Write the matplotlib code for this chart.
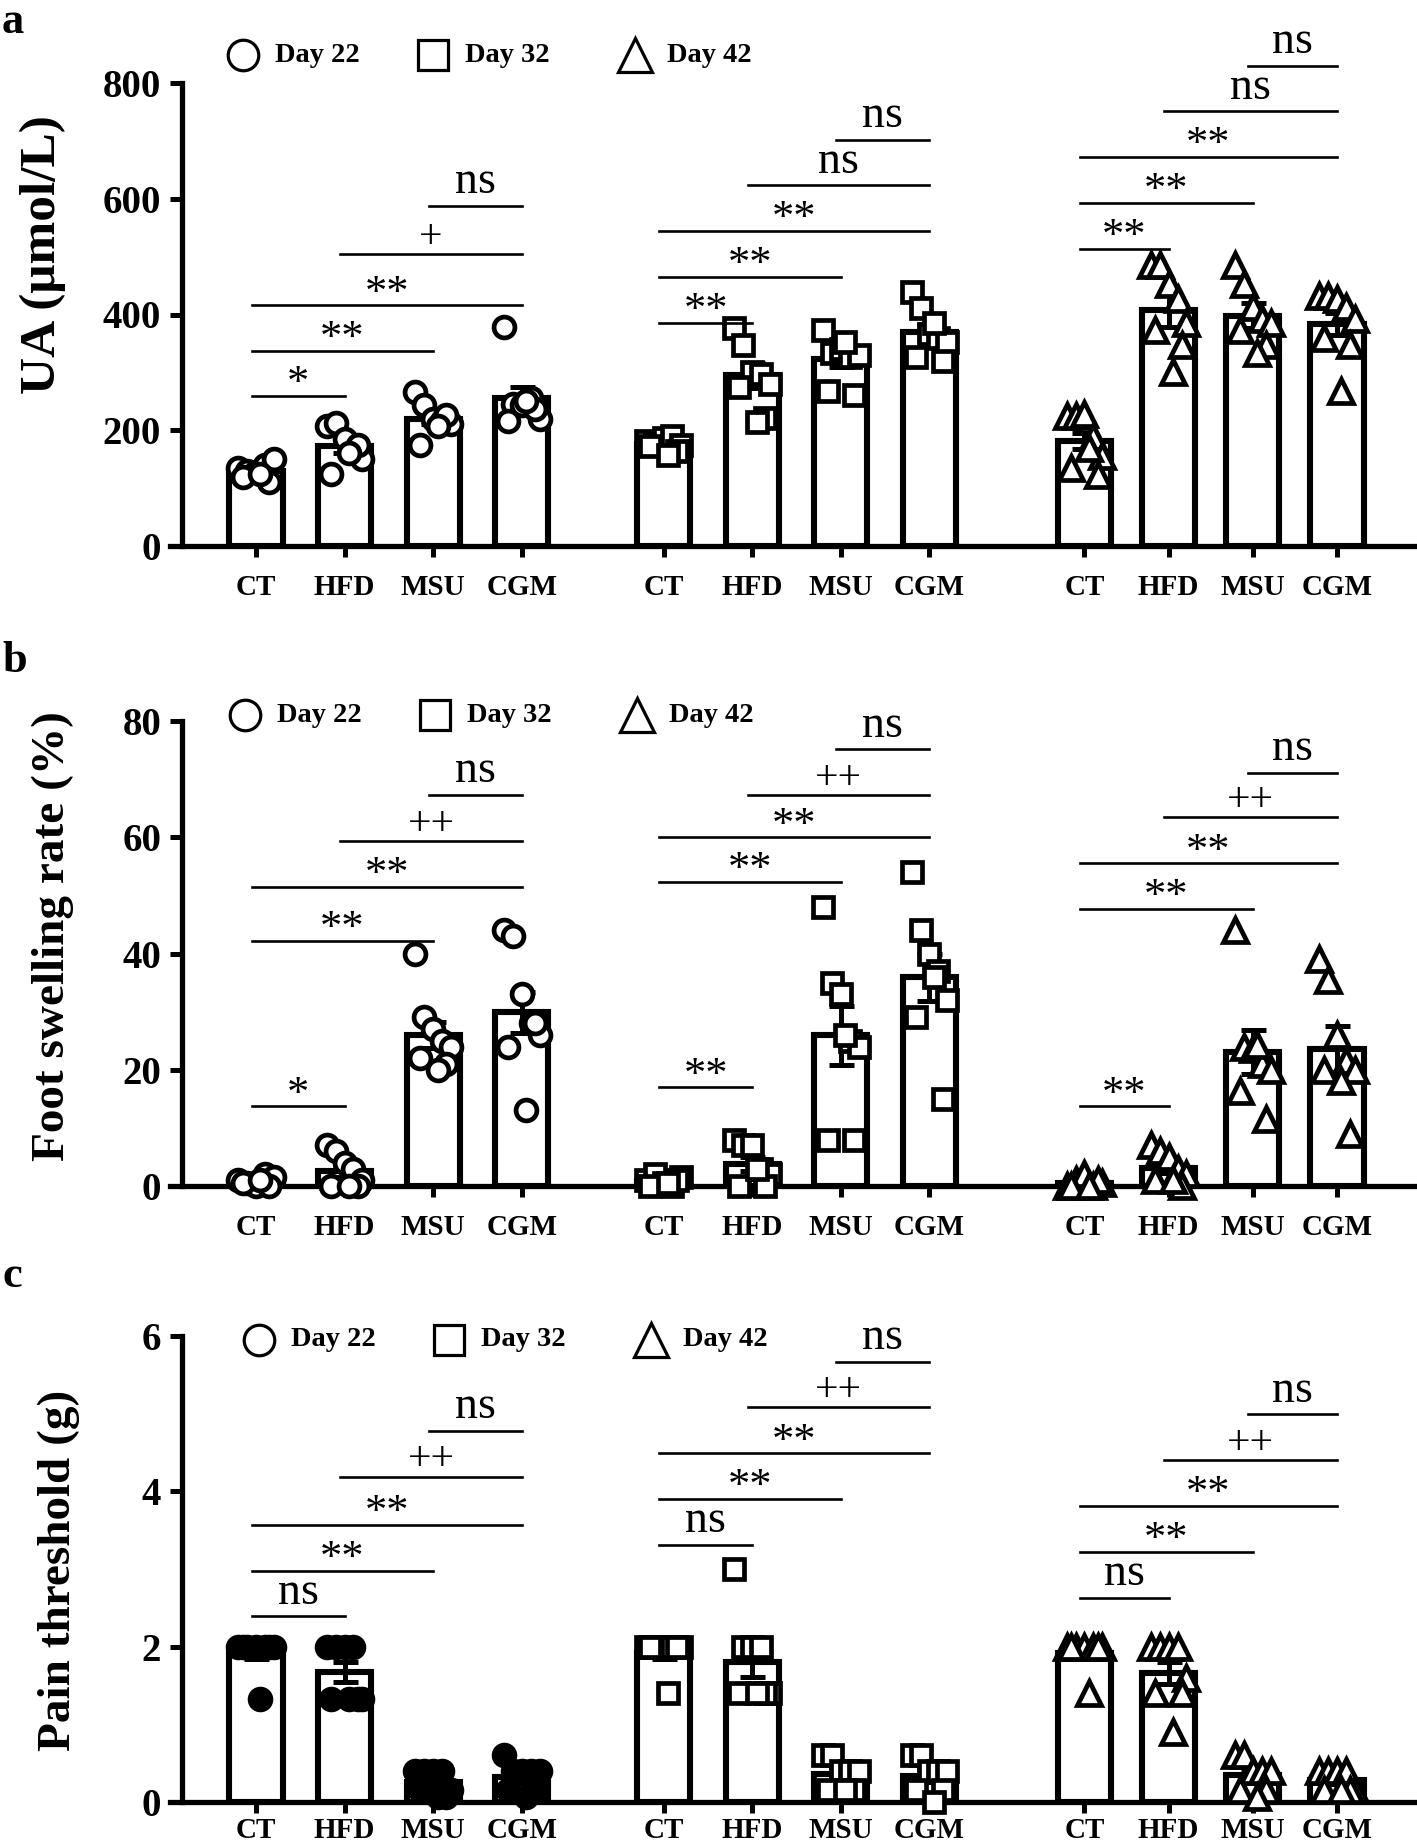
import numpy as np
import matplotlib
matplotlib.use("Agg")
import matplotlib.pyplot as plt

plt.rcParams['font.family'] = ['Liberation Serif', 'DejaVu Serif']

# categories
groups = ["CT", "HFD", "MSU", "CGM"]
days = ["Day 22", "Day 32", "Day 42"]
x_pos = [0, 1, 2, 3, 4.6, 5.6, 6.6, 7.6, 9.35, 10.3, 11.25, 12.2]

# a: UA (umol/L), 8 animals per bar
ua_pts = [
    [135, 130, 128, 140, 150, 120, 110, 125], [208, 212, 185, 165, 150, 125, 175, 160],
    [266, 243, 220, 216, 210, 174, 226, 207], [378, 246, 243, 256, 220, 216, 236, 250],
    [182, 178, 186, 190, 175, 172, 165, 158], [376, 347, 300, 297, 280, 274, 221, 215],
    [373, 333, 340, 327, 330, 267, 261, 353], [439, 412, 366, 360, 353, 327, 320, 386],
    [224, 224, 228, 188, 155, 135, 122, 170], [485, 485, 452, 426, 386, 373, 347, 300],
    [485, 452, 413, 393, 386, 373, 347, 333], [432, 432, 426, 413, 393, 360, 347, 267],
]
ua_mean = [130, 172, 220, 256, 176, 295, 323, 370, 181, 407, 398, 384]
ua_sem = [5, 11, 9, 19, 4, 22, 14, 14, 14, 28, 22, 19]
ua_sig = [(0, 1, 260, '*'), (0, 2, 337, '**'), (0, 3, 416, '**'), (1, 3, 505, '+'), (2, 3, 587, 'ns'),
          (4, 5, 386, '**'), (4, 6, 465, '**'), (4, 7, 544, '**'), (5, 7, 623, 'ns'), (6, 7, 702, 'ns'),
          (8, 9, 514, '**'), (8, 10, 593, '**'), (8, 11, 672, '**'), (9, 11, 751, 'ns'), (10, 11, 830, 'ns')]

# b: foot swelling rate (%)
fs_pts = [
    [1, 0.5, 0, 2, 1.5, 0.5, 0, 1], [7, 6, 4, 3, 1, 0, 0, 0],
    [40, 29, 27, 25, 24, 22, 21, 20], [44, 43, 33, 28, 26, 24, 28, 13],
    [1, 2, 0.5, 0, 1.5, 0, 1, 0.5], [8, 7, 7, 3, 2, 0, 0, 3],
    [48, 35, 33, 25, 24, 8, 8, 26], [54, 44, 40, 37, 32, 29, 15, 36],
    [0, 1, 2, 0, 0.5, 0, 1, 0], [7, 6, 5, 3, 2, 1, 0, 1],
    [44, 24, 23.6, 21, 20, 16.4, 11.6, 24.3], [39, 35.5, 26, 21.5, 20, 20, 9, 18],
]
fs_mean = [0.8, 2.6, 26, 29.9, 0.8, 3.8, 25.9, 35.9, 0.6, 3.1, 23.1, 23.6]
fs_sem = [0.3, 1.0, 2.2, 3.5, 0.3, 1.2, 5, 4, 0.3, 0.9, 3.8, 4]
fs_sig = [(0, 1, 13.7, '*'), (0, 2, 42.2, '**'), (0, 3, 51.5, '**'), (1, 3, 59.4, '++'), (2, 3, 67.3, 'ns'),
          (4, 5, 17, '**'), (4, 6, 52.3, '**'), (4, 7, 60, '**'), (5, 7, 67.3, '++'), (6, 7, 75.1, 'ns'),
          (8, 9, 13.7, '**'), (8, 10, 47.7, '**'), (8, 11, 55.5, '**'), (9, 11, 63.4, '++'), (10, 11, 71.1, 'ns')]

# c: pain threshold (g)
pt_pts = [
    [2, 2, 2, 2, 2, 2, 2, 1.33], [2, 2, 2, 2, 1.33, 1.33, 1.33, 1.33],
    [0.4, 0.4, 0.4, 0.4, 0.16, 0.16, 0.07, 0.07], [0.6, 0.4, 0.4, 0.4, 0.4, 0.16, 0.16, 0.07],
    [2, 2, 2, 2, 2, 2, 2, 1.4], [3.0, 2, 2, 2, 1.4, 1.4, 1.4, 1.4],
    [0.6, 0.6, 0.4, 0.4, 0.4, 0.16, 0.16, 0.16], [0.6, 0.6, 0.4, 0.4, 0.4, 0.16, 0.16, 0.0],
    [2, 2, 2, 2, 2, 2, 2, 1.4], [2, 2, 2, 2, 1.6, 1.4, 1.4, 0.9],
    [0.6, 0.6, 0.4, 0.4, 0.4, 0.16, 0.16, 0.07], [0.4, 0.4, 0.4, 0.4, 0.16, 0.16, 0.16, 0.16],
]
pt_mean = [1.92, 1.67, 0.26, 0.32, 1.92, 1.8, 0.36, 0.34, 1.92, 1.66, 0.35, 0.28]
pt_sem = [0.08, 0.13, 0.06, 0.07, 0.08, 0.19, 0.07, 0.08, 0.08, 0.14, 0.07, 0.05]
pt_sig = [(0, 1, 2.39, 'ns'), (0, 2, 2.98, '**'), (0, 3, 3.57, '**'), (1, 3, 4.19, '++'), (2, 3, 4.78, 'ns'),
          (4, 5, 3.31, 'ns'), (4, 6, 3.9, '**'), (4, 7, 4.49, '**'), (5, 7, 5.08, '++'), (6, 7, 5.67, 'ns'),
          (8, 9, 2.63, 'ns'), (8, 10, 3.22, '**'), (8, 11, 3.81, '**'), (9, 11, 4.4, '++'), (10, 11, 4.99, 'ns')]

markers = ['o', 's', '^']
jitter = np.array([-0.2, -0.1, 0.0, 0.1, 0.2, -0.15, 0.15, 0.05])

W, H = 1417, 1841
fig = plt.figure(figsize=(W / 100, H / 100), dpi=100)
X0, X1 = -0.97, 13.08
AX_L, AX_R = 170, 1415


def make_panel(letter, top, bottom, ymax, yticks, ylabel, ylab_xy, ylab_size, pts, means, sems, sigs,
               leg_x, leg_y, xpad=12, fill_circles=False):
    ax = fig.add_axes([AX_L / W, 1 - bottom / H, (AX_R - AX_L) / W, (bottom - top) / H])
    ax.set_xlim(X0, X1)
    ax.set_ylim(0, ymax)
    for s in ['top', 'right']:
        ax.spines[s].set_visible(False)
    ax.spines['left'].set_position(('data', -0.835))
    ax.spines['left'].set_linewidth(3.8)
    ax.spines['bottom'].set_linewidth(3.8)

    for k, x in enumerate(x_pos):
        d = k // 4
        ax.bar(x, means[k], width=0.6, color='white', edgecolor='black', linewidth=4.4, zorder=2)
        ax.errorbar(x, means[k], yerr=sems[k], color='black', elinewidth=3.6, capsize=9,
                    capthick=3.6, zorder=3)
        fc = 'black' if (fill_circles and d == 0) else 'white'
        ax.plot(x + jitter[:len(pts[k])], pts[k], linestyle='none', marker=markers[d],
                markersize=15 if d < 2 else 17, markerfacecolor=fc, markeredgecolor='black',
                markeredgewidth=3.4, zorder=4, clip_on=False)

    for i, j, y, lab in sigs:
        xa, xb = x_pos[i] - 0.05, x_pos[j]
        ax.plot([xa, xb], [y, y], color='black', linewidth=1.9, clip_on=False, zorder=5)
        if lab == 'ns':
            ax.annotate(lab, ((xa + xb) / 2, y), xytext=(0, 2), textcoords='offset points',
                        ha='center', va='bottom', fontsize=33, annotation_clip=False)
        elif lab.startswith('*'):
            ax.annotate(lab, ((xa + xb) / 2, y), xytext=(0, -6), textcoords='offset points',
                        ha='center', va='bottom', fontsize=32, annotation_clip=False)
        else:
            ax.annotate(lab, ((xa + xb) / 2, y), xytext=(0, -2), textcoords='offset points',
                        ha='center', va='bottom', fontsize=30, annotation_clip=False)

    ax.set_xticks(x_pos)
    ax.set_xticklabels(groups * 3, fontsize=21, fontweight='bold')
    ax.set_yticks(yticks)
    ax.set_yticklabels([str(t) for t in yticks], fontsize=28, fontweight='bold')
    ax.tick_params(axis='y', length=9, width=3.6, pad=6)
    ax.tick_params(axis='x', length=8, width=3.6, pad=xpad)
    fig.text(ylab_xy[0] / W, 1 - ylab_xy[1] / H, ylabel, fontsize=ylab_size, fontweight='bold',
             rotation=90, ha='center', va='center')

    # legend drawn in figure pixels
    for d in range(3):
        mx = (leg_x + [0, 190, 392][d]) / W
        my = 1 - leg_y / H
        fig.lines.append(plt.Line2D([mx], [my], transform=fig.transFigure, marker=markers[d],
                                    markersize=22 if d < 2 else 24, markerfacecolor='white',
                                    markeredgecolor='black', markeredgewidth=2.3, linestyle='none'))
        fig.text(mx + 32 / W, my, days[d], fontsize=20.5, fontweight='bold', va='center', ha='left')

    fig.text(2 / W, 1 - (top - 60 if letter != 'a' else 22) / H, letter, fontsize=32,
             fontweight='bold', va='center', ha='left')
    return ax


ax_a = make_panel('a', 83, 546, 800, [0, 200, 400, 600, 800], 'UA (μmol/L)', (43, 255), 37,
                  ua_pts, ua_mean, ua_sem, ua_sig, 243, 55)
ax_b = make_panel('b', 721, 1186, 80, [0, 20, 40, 60, 80], 'Foot swelling rate (%)', (53, 936), 34,
                  fs_pts, fs_mean, fs_sem, fs_sig, 245, 715)
ax_c = make_panel('c', 1336, 1802, 6, [0, 2, 4, 6], 'Pain threshold (g)', (59, 1570), 34,
                  pt_pts, pt_mean, pt_sem, pt_sig, 259, 1340, xpad=3, fill_circles=True)

fig.savefig("out.png", dpi=100)
